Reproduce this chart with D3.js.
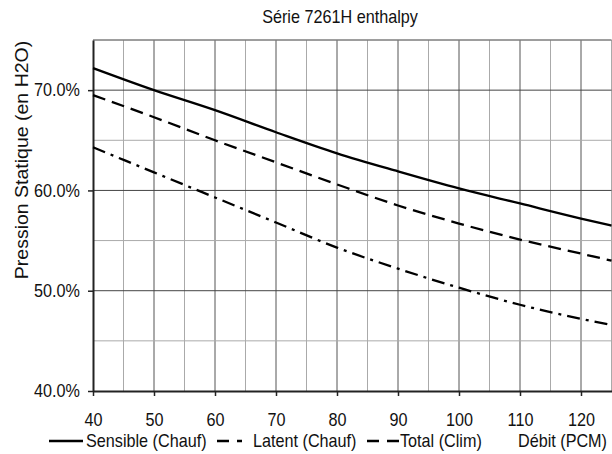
<!DOCTYPE html>
<html>
<head>
<meta charset="utf-8">
<script src="https://cdn.jsdelivr.net/npm/d3@7"></script>
<style>
  html, body { margin: 0; padding: 0; background: #fff; overflow: hidden; }
  text { font-family: "Liberation Sans", Arial, sans-serif; fill: #111; }
</style>
</head>
<body>
<script>
// débit (PCM) sample points
const debit = [40, 50, 60, 70, 80, 90, 100, 110, 120, 125];
// pression statique, %
const sensible = [72.2, 70.0, 68.0, 65.8, 63.7, 61.9, 60.2, 58.7, 57.2, 56.5];
const latent   = [69.5, 67.3, 65.0, 62.8, 60.6, 58.5, 56.7, 55.1, 53.7, 53.0];
const total    = [64.3, 61.8, 59.3, 56.8, 54.3, 52.2, 50.3, 48.6, 47.2, 46.6];

const seriesNames = ["Sensible (Chauf)", "Latent (Chauf)", "Total (Clim)"];
const xTicks = [40, 50, 60, 70, 80, 90, 100, 110, 120];
const yTicks = [40, 50, 60, 70];

const W = 612, H = 454;
const mLeft = 93, mRight = 611.5, mTop = 40, mBottom = 391;
const sx = 0.9; // glyphs look slightly condensed

const svg = d3.select("body").append("svg")
    .attr("width", W)
    .attr("height", H);

const x = d3.scaleLinear().domain([40, 125]).range([mLeft, mRight]);
const y = d3.scaleLinear().domain([40, 75]).range([mBottom, mTop]);

// grid
const grid = svg.append("g");
grid.selectAll("line.vx")
    .data(d3.range(45, 126, 5))
    .join("line")
    .attr("x1", d => x(d)).attr("x2", d => x(d))
    .attr("y1", mTop).attr("y2", mBottom)
    .attr("stroke", d => d % 10 === 0 ? "#555" : "#aaa")
    .attr("stroke-width", 1);
grid.selectAll("line.hy")
    .data(d3.range(45, 76, 5))
    .join("line")
    .attr("x1", mLeft).attr("x2", mRight)
    .attr("y1", d => y(d)).attr("y2", d => y(d))
    .attr("stroke", d => d % 10 === 0 ? "#444" : "#aaa")
    .attr("stroke-width", 1);
grid.append("line")
    .attr("x1", mLeft).attr("x2", mRight)
    .attr("y1", mTop).attr("y2", mTop)
    .attr("stroke", "#666");

// axes
const xAxis = svg.append("g")
    .attr("transform", `translate(0,${mBottom})`)
    .call(d3.axisBottom(x).tickValues(xTicks).tickSize(5).tickPadding(17).tickSizeOuter(0));
const yAxis = svg.append("g")
    .attr("transform", `translate(${mLeft},0)`)
    .call(d3.axisLeft(y).tickValues(yTicks).tickSize(5).tickPadding(8).tickSizeOuter(0)
        .tickFormat(d => d.toFixed(1) + "%"));

[xAxis, yAxis].forEach(g => {
    g.select(".domain").attr("stroke", "#222").attr("stroke-width", 2);
    g.selectAll(".tick line").attr("stroke", "#222").attr("stroke-width", 1.5);
    g.selectAll(".tick text")
        .attr("font-size", 18)
        .attr("font-family", "Liberation Sans, Arial, sans-serif")
        .attr("fill", "#111")
        .each(function() {
            const t = d3.select(this);
            const tx = +t.attr("x") || 0;
            t.attr("x", 0).attr("transform", `translate(${tx},0) scale(${sx},1)`);
        });
});

// curves
const line = d3.line()
    .x((d, i) => x(debit[i]))
    .y(d => y(d))
    .curve(d3.curveMonotoneX);

const plot = svg.append("g");
[
    {v: sensible, dash: null},
    {v: latent, dash: "13,7"},
    {v: total, dash: "13,6,3,6"}
].forEach(s => {
    plot.append("path")
        .datum(s.v)
        .attr("d", line)
        .attr("fill", "none")
        .attr("stroke", "#000")
        .attr("stroke-width", 2.3)
        .attr("stroke-dasharray", s.dash);
});

// text helper, slightly condensed
function label(str, tx, ty, size, anchor) {
    return svg.append("text")
        .attr("transform", `translate(${tx},${ty}) scale(${sx},1)`)
        .attr("font-size", size)
        .attr("text-anchor", anchor || "start")
        .text(str);
}

label("Série 7261H enthalpy", 340, 23, 18, "middle");

svg.append("text")
    .attr("transform", `translate(28,160) rotate(-90) scale(1,${sx})`)
    .attr("font-size", 19.5)
    .attr("text-anchor", "middle")
    .text("Pression Statique (en H2O)");

// legend
const legend = [
    {x1: 49, x2: 83, tx: 86, dash: null},
    {x1: 217, x2: 242, tx: 253, dash: "12,8"},
    {x1: 367, x2: 399, tx: 400, dash: "12,8"}
];
legend.forEach((l, i) => {
    svg.append("line")
        .attr("x1", l.x1).attr("x2", l.x2)
        .attr("y1", 441).attr("y2", 441)
        .attr("stroke", "#000")
        .attr("stroke-width", 2.3)
        .attr("stroke-dasharray", l.dash);
    label(seriesNames[i], l.tx, 447, 18);
});
label("Débit (PCM)", 607, 447, 18, "end");
</script>
</body>
</html>
